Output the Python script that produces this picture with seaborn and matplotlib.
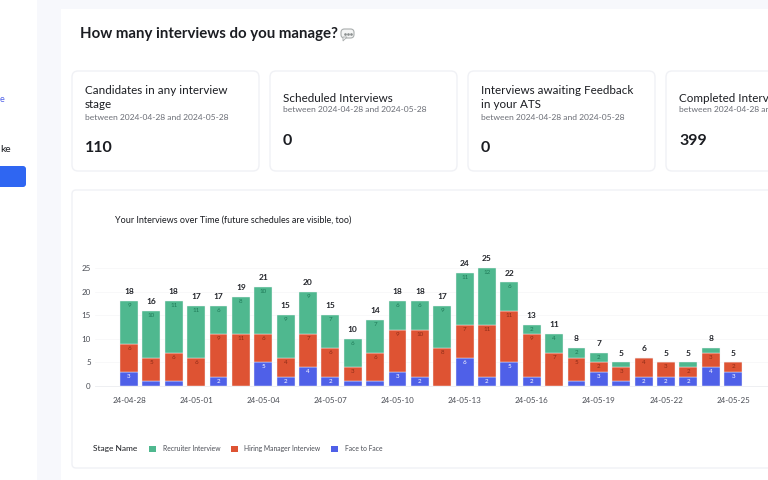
from __future__ import annotations

import matplotlib

matplotlib.use("Agg")

import matplotlib.pyplot as plt
import matplotlib.patches as mpatches
import pandas as pd
import seaborn as sns


DAYS = [
    "04-28", "04-29", "04-30", "05-01", "05-02", "05-03", "05-04",
    "05-05", "05-06", "05-07", "05-08", "05-09", "05-10", "05-11",
    "05-12", "05-13", "05-14", "05-15", "05-16", "05-17", "05-18",
    "05-19", "05-20", "05-21", "05-22", "05-23", "05-24", "05-25",
]
RECRUITER = [9, 10, 11, 11, 6, 8, 10, 9, 9, 7, 6, 7, 6, 6, 9, 11, 12, 6, 2, 4, 2, 2, 1, 0, 0, 1, 1, 0]
HIRING = [6, 5, 6, 6, 9, 11, 6, 4, 7, 6, 3, 6, 9, 10, 8, 7, 11, 11, 9, 7, 5, 2, 3, 4, 3, 2, 3, 2]
FACE = [3, 1, 1, 0, 2, 0, 5, 2, 4, 2, 1, 1, 3, 2, 0, 6, 2, 5, 2, 0, 1, 3, 1, 2, 2, 2, 4, 3]
STAGES = ["Recruiter Interview", "Hiring Manager Interview", "Face to Face"]
TICK_LABELS = ["24-04-28", "24-05-01", "24-05-04", "24-05-07", "24-05-10", "24-05-13", "24-05-16", "24-05-19", "24-05-22", "24-05-25"]
Y_TICKS = [0, 5, 10, 15, 20, 25]

CARD_TITLES = [
    ["Candidates in any interview", "stage"],
    ["Scheduled Interviews"],
    ["Interviews awaiting Feedback", "in your ATS"],
    ["Completed Interviews"],
]
CARD_VALUES = ["110", "0", "0", "399"]
CARD_RANGE = "between 2024-04-28 and 2024-05-28"

COLORS = {"Recruiter Interview": "#4FB88F", "Hiring Manager Interview": "#DE5333", "Face to Face": "#4F60E8"}
INK = "#1B1D22"
MUTED = "#6B6E76"
BORDER = "#F0F1F5"

sns.set_theme(style="white")
plt.rcParams["font.family"] = ["Lato", "DejaVu Sans"]

fig = plt.figure(figsize=(7.68, 4.8), dpi=100, facecolor="#F7F8FC")

# page layer, in pixels
page = fig.add_axes([0, 0, 1, 1])
page.set_xlim(0, 768)
page.set_ylim(480, 0)
page.axis("off")
page.add_patch(mpatches.Rectangle((0, 0), 37, 480, facecolor="white", edgecolor="none"))
page.add_patch(mpatches.Rectangle((61, 9), 720, 480, facecolor="white", edgecolor="none"))
page.add_patch(mpatches.FancyBboxPatch((-10, 166), 36, 21, boxstyle="round,pad=0,rounding_size=3", facecolor="#2F66F2", edgecolor="none"))
page.text(0, 100, "e", fontsize=6.5, color="#4F60E8", va="center")
page.text(0.5, 150, "ke", fontsize=7.5, color=INK, va="center")

page.text(80, 34, "How many interviews do you manage?", fontsize=10.8, fontweight="bold", color=INK, va="center")
page.add_patch(mpatches.FancyBboxPatch((341, 29), 13, 9, boxstyle="round,pad=0,rounding_size=3.5", facecolor="#F4F5F5", edgecolor="#A9ADAD", linewidth=0.8))
page.add_patch(mpatches.Polygon([[343, 37], [347, 37], [343, 41]], facecolor="#F4F5F5", edgecolor="#A9ADAD", linewidth=0.6))
page.plot([344.5, 347.5, 350.5], [33.5, 33.5, 33.5], linestyle="none", marker="o", markersize=0.9, color="#8C9090")

for i, (lines, number) in enumerate(zip(CARD_TITLES, CARD_VALUES)):
    x0 = 72 + 198 * i
    page.add_patch(mpatches.FancyBboxPatch((x0, 71), 187, 100, boxstyle="round,pad=0,rounding_size=6", facecolor="white", edgecolor=BORDER, linewidth=1))
    two_lines = len(lines) == 2
    y_first = 91 if two_lines else 98
    for k, line in enumerate(lines):
        page.text(x0 + 13, y_first + 14 * k, line, fontsize=8.4, color=INK, va="center")
    page.text(x0 + 13, 117 if two_lines else 110, CARD_RANGE, fontsize=6.1, color=MUTED, va="center")
    page.text(x0 + 13, 148 if two_lines else 141, number, fontsize=11.5, fontweight="bold", color=INK, va="center")

page.add_patch(mpatches.FancyBboxPatch((72, 190), 760, 278, boxstyle="round,pad=0,rounding_size=4", facecolor="white", edgecolor=BORDER, linewidth=1))
page.text(115, 220, "Your Interviews over Time (future schedules are visible, too)", fontsize=6.5, color=INK, va="center")
page.text(93, 448, "Stage Name", fontsize=6, color=INK, va="center")

# the chart itself
rows = []
for stage, values in zip(STAGES, [RECRUITER, HIRING, FACE]):
    rows.append(pd.DataFrame({"day": DAYS, "stage": stage, "count": values}))
df = pd.concat(rows, ignore_index=True)

ax = fig.add_axes([95 / 768, (480 - 386) / 480, 673 / 768, 136 / 480])
ax.patch.set_alpha(0)
sns.histplot(
    data=df,
    x="day",
    weights="count",
    hue="stage",
    hue_order=STAGES,
    palette=COLORS,
    multiple="stack",
    discrete=True,
    shrink=0.8,
    alpha=1,
    linewidth=0.3,
    edgecolor="#F3F4F6",
    ax=ax,
)
ax.set_xlim(-1.52, 28.56)
ax.set_ylim(0, 28.9)
ax.set_xlabel("")
ax.set_ylabel("")
ax.set_xticks(range(0, len(DAYS), 3))
ax.set_xticklabels(TICK_LABELS)
ax.set_yticks(Y_TICKS)
ax.tick_params(axis="both", length=0, labelsize=5.8, labelcolor="#4A4D55")
ax.tick_params(axis="x", pad=8)
ax.tick_params(axis="y", pad=3)
ax.grid(axis="y", color="#F8F8F9", linewidth=0.7)
ax.set_axisbelow(True)
sns.despine(ax=ax, left=True, top=True, right=True)
ax.spines["bottom"].set_color("#EEEFF2")
ax.spines["bottom"].set_linewidth(0.7)

# segment and total labels
for i in range(len(DAYS)):
    base = 0
    for values, color in [(FACE, "#FFFFFF"), (HIRING, "#8E2C17"), (RECRUITER, "#1F7A58")]:
        v = values[i]
        if v >= 2:
            ax.text(i, base + v - 0.95, str(v), ha="center", va="center", fontsize=4.5, color=color)
        base += v
    ax.text(i, base + 2, str(base), ha="center", va="center", fontsize=6, fontweight="bold", color="#22242A")

handles = [mpatches.Patch(facecolor=COLORS[s], edgecolor="none") for s in STAGES]
ax.get_legend().remove()
page.set_zorder(0)
ax.set_zorder(1)
fig.legend(
    handles,
    STAGES,
    loc="center left",
    bbox_to_anchor=(143 / 768, (480 - 448.5) / 480),
    ncols=3,
    frameon=False,
    fontsize=4.85,
    labelcolor="#4A4D55",
    handlelength=1.0,
    handleheight=1.0,
    handletextpad=1.0,
    columnspacing=1.6,
)

fig.savefig("out.png", dpi=100)
